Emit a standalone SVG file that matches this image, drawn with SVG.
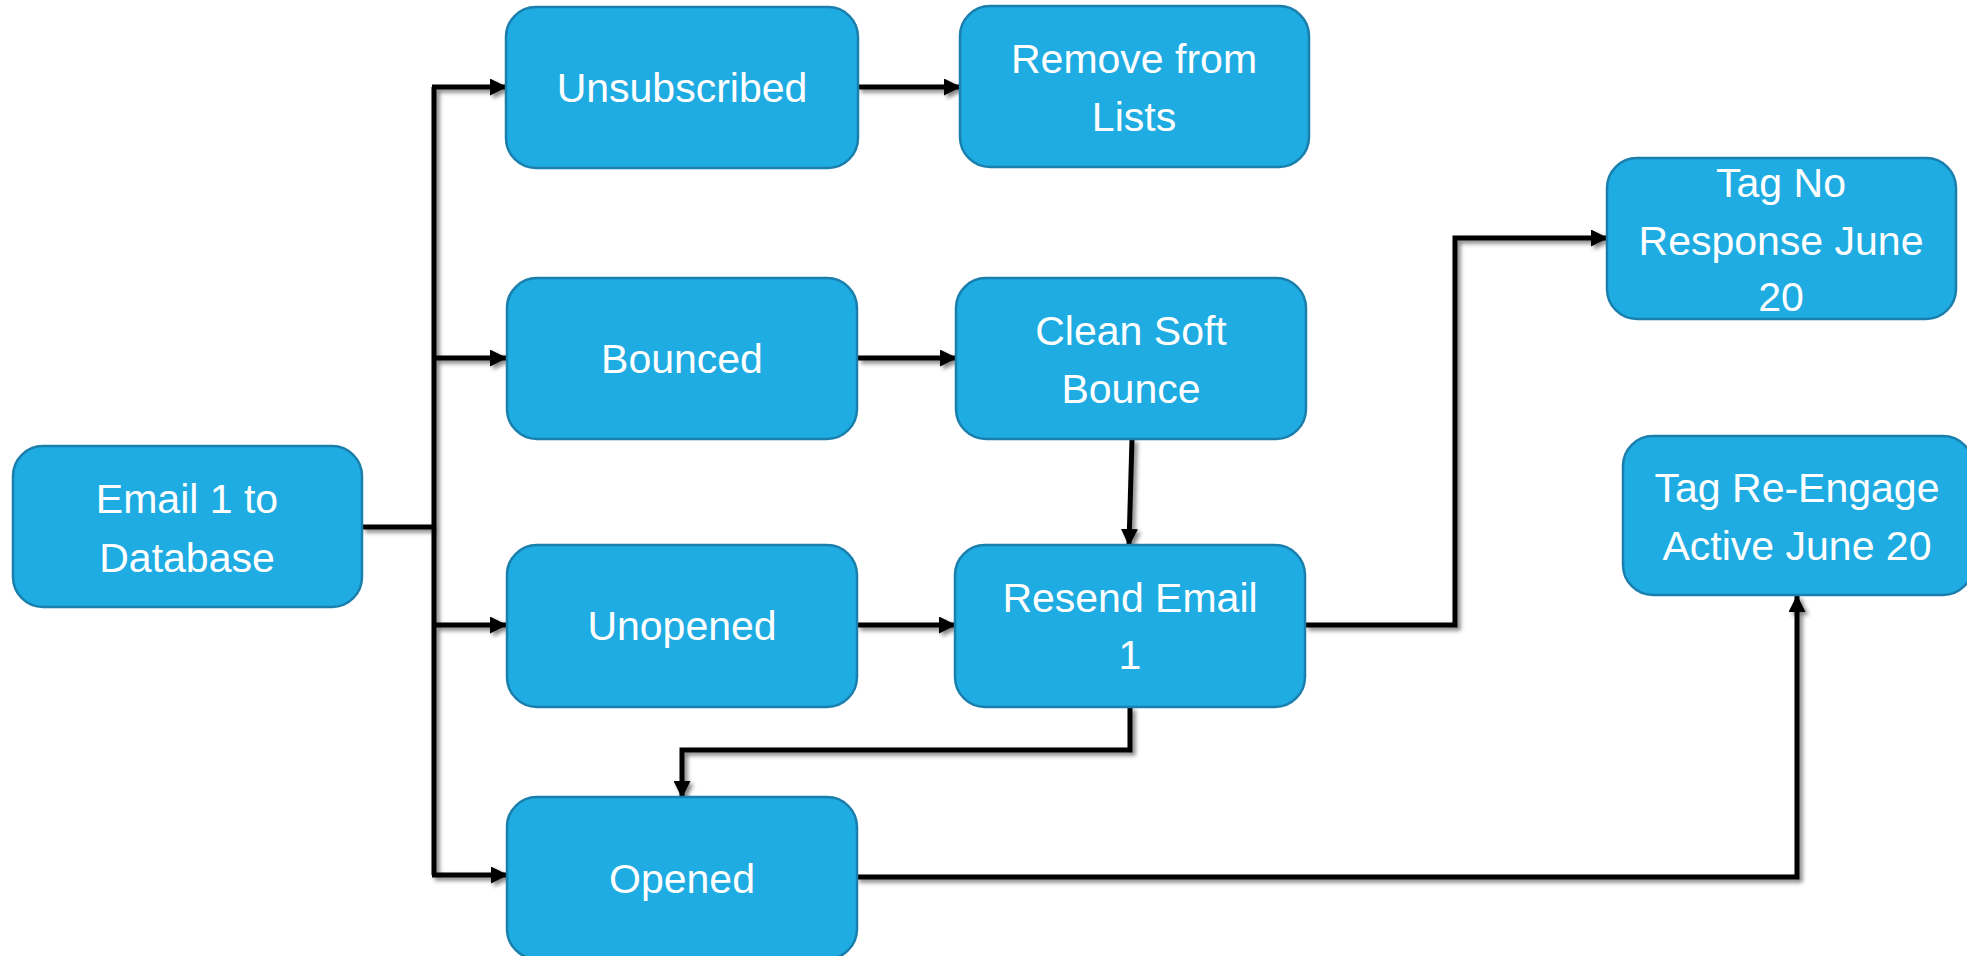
<svg xmlns="http://www.w3.org/2000/svg" width="1967" height="956" viewBox="0 0 1967 956">
<style>
.box{fill:#1FACE2;stroke:#1A7FAD;stroke-width:2.5}
.lbl{font-family:"Liberation Sans",Arial,sans-serif;font-size:41px;fill:#FFFFFF;text-anchor:middle}
.ln{fill:none;stroke:#000;stroke-width:5;stroke-linejoin:miter}
</style>
<defs>
<marker id="ah" viewBox="0 0 17 17" refX="16" refY="8.5" markerWidth="17" markerHeight="17" markerUnits="userSpaceOnUse" orient="auto">
<path d="M0,0 L17,8.5 L0,17 Z" fill="#000"/>
</marker>
<filter id="sh" x="-20%" y="-20%" width="140%" height="140%">
<feGaussianBlur in="SourceAlpha" stdDeviation="2"/>
<feOffset dx="3" dy="3" result="b"/>
<feComponentTransfer><feFuncA type="linear" slope="0.5"/></feComponentTransfer>
<feMerge><feMergeNode/><feMergeNode in="SourceGraphic"/></feMerge>
</filter>
</defs>
<rect width="1967" height="956" fill="#FFFFFF"/>
<g id="connectors" filter="url(#sh)">
<path class="ln" d="M362,527 H435" stroke-width="7"/>
<path class="ln" d="M434,875 V87"/>
<path class="ln" d="M432,87 H506" marker-end="url(#ah)"/>
<path class="ln" d="M432,358 H506" marker-end="url(#ah)"/>
<path class="ln" d="M432,625 H506" marker-end="url(#ah)"/>
<path class="ln" d="M432,875 H507" marker-end="url(#ah)"/>
<path class="ln" d="M858,87 H960" marker-end="url(#ah)"/>
<path class="ln" d="M858,358 H956" marker-end="url(#ah)"/>
<path class="ln" d="M1132,439 L1129,545" marker-end="url(#ah)"/>
<path class="ln" d="M857,625 H955" marker-end="url(#ah)"/>
<path class="ln" d="M1305,625 H1455 V238 H1607" marker-end="url(#ah)"/>
<path class="ln" d="M1130,707 V750 H682 V797" marker-end="url(#ah)"/>
<path class="ln" d="M856,877 H1797 V596" marker-end="url(#ah)"/>
</g>
<g id="n-email">
<rect class="box" x="13" y="446" width="349" height="161" rx="30"/>
<text class="lbl" x="187" y="513">Email 1 to</text>
<text class="lbl" x="187" y="572">Database</text>
</g>
<g id="n-unsub">
<rect class="box" x="506" y="7" width="352" height="161" rx="30"/>
<text class="lbl" x="682" y="102">Unsubscribed</text>
</g>
<g id="n-remove">
<rect class="box" x="960" y="6" width="349" height="161" rx="30"/>
<text class="lbl" x="1134" y="73">Remove from</text>
<text class="lbl" x="1134" y="131">Lists</text>
</g>
<g id="n-bounced">
<rect class="box" x="507" y="278" width="350" height="161" rx="30"/>
<text class="lbl" x="682" y="373">Bounced</text>
</g>
<g id="n-clean">
<rect class="box" x="956" y="278" width="350" height="161" rx="30"/>
<text class="lbl" x="1131" y="345">Clean Soft</text>
<text class="lbl" x="1131" y="403">Bounce</text>
</g>
<g id="n-unopened">
<rect class="box" x="507" y="545" width="350" height="162" rx="30"/>
<text class="lbl" x="682" y="640">Unopened</text>
</g>
<g id="n-resend">
<rect class="box" x="955" y="545" width="350" height="162" rx="30"/>
<text class="lbl" x="1130" y="612">Resend Email</text>
<text class="lbl" x="1130" y="669">1</text>
</g>
<g id="n-opened">
<rect class="box" x="507" y="797" width="350" height="162" rx="30"/>
<text class="lbl" x="682" y="893">Opened</text>
</g>
<g id="n-noresp">
<rect class="box" x="1607" y="158" width="349" height="161" rx="30"/>
<text class="lbl" x="1781" y="197">Tag No</text>
<text class="lbl" x="1781" y="255">Response June</text>
<text class="lbl" x="1781" y="311">20</text>
</g>
<g id="n-reengage">
<rect class="box" x="1623" y="436" width="350" height="159" rx="30"/>
<text class="lbl" x="1797" y="502">Tag Re-Engage</text>
<text class="lbl" x="1797" y="560">Active June 20</text>
</g>
</svg>
